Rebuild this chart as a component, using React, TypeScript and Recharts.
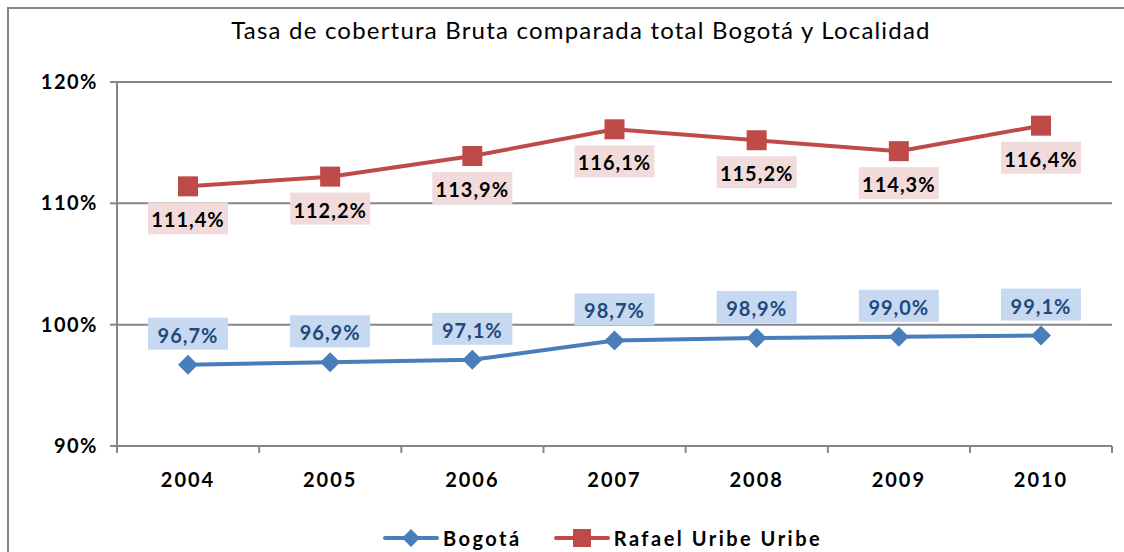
import React from 'react';
import { LineChart, Line, XAxis, YAxis, CartesianGrid, Legend } from 'recharts';

const years = ['2004', '2005', '2006', '2007', '2008', '2009', '2010'];
const bogota = [96.7, 96.9, 97.1, 98.7, 98.9, 99.0, 99.1];
const rafaelUribe = [111.4, 112.2, 113.9, 116.1, 115.2, 114.3, 116.4];
const yTicks = [90, 100, 110, 120];

const chartData = years.map((year, i) => ({
  year,
  bogota: bogota[i],
  rafael: rafaelUribe[i],
}));

const FONT = 'Lato, "DejaVu Sans", sans-serif';
const GRID = '#868686';
const BLUE = '#4a7ebb';
const RED = '#be4b48';
const HALF_BAND = 71;

const fmt = (v: number) => `${v.toFixed(1).replace('.', ',')}%`;

const BoxLabel = (props: any) => {
  const { x, y, value, bg, color, dy } = props;
  if (x == null || y == null) return null;
  return (
    <g>
      <rect x={x - 40} y={y + dy - 16} width={80} height={32} fill={bg} />
      <text
        x={x}
        y={y + dy + 1}
        textAnchor="middle"
        dominantBaseline="central"
        fontFamily={FONT}
        fontWeight={700}
        fontSize={20}
        letterSpacing={1}
        fill={color}
      >
        {fmt(value)}
      </text>
    </g>
  );
};

const SquareDot = (props: any) => {
  const { cx, cy } = props;
  if (cx == null || cy == null) return null;
  return <rect x={cx - 10} y={cy - 10} width={20} height={20} fill={RED} />;
};

const DiamondDot = (props: any) => {
  const { cx, cy } = props;
  if (cx == null || cy == null) return null;
  return <polygon points={`${cx},${cy - 10} ${cx + 10},${cy} ${cx},${cy + 10} ${cx - 10},${cy}`} fill={BLUE} />;
};

const YearTick = (props: any) => {
  const { x, y, payload, index } = props;
  return (
    <g>
      <line x1={x - HALF_BAND} y1={y} x2={x - HALF_BAND} y2={y + 7} stroke={GRID} strokeWidth={2} />
      {index === years.length - 1 && (
        <line x1={x + HALF_BAND} y1={y} x2={x + HALF_BAND} y2={y + 7} stroke={GRID} strokeWidth={2} />
      )}
      <text
        x={x}
        y={y + 33}
        textAnchor="middle"
        dominantBaseline="central"
        fontFamily={FONT}
        fontWeight={700}
        fontSize={20}
        letterSpacing={2}
        fill="#000"
      >
        {payload.value}
      </text>
    </g>
  );
};

const LegendContent = () => (
  <div
    style={{
      display: 'flex',
      alignItems: 'center',
      paddingLeft: 383,
      paddingTop: 20,
      fontFamily: FONT,
      fontWeight: 700,
      fontSize: 20,
      letterSpacing: 2.5,
      color: '#000',
    }}
  >
    <svg width={56} height={22}>
      <line x1={2} y1={11} x2={54} y2={11} stroke={BLUE} strokeWidth={4} strokeLinecap="round" />
      <polygon points="28,2 37,11 28,20 19,11" fill={BLUE} />
    </svg>
    <span style={{ marginLeft: 4, marginRight: 32 }}>Bogotá</span>
    <svg width={56} height={22}>
      <line x1={2} y1={11} x2={54} y2={11} stroke={RED} strokeWidth={4} strokeLinecap="round" />
      <rect x={19} y={2} width={18} height={18} fill={RED} />
    </svg>
    <span style={{ marginLeft: 4 }}>Rafael Uribe Uribe</span>
  </div>
);

export default function App() {
  return (
    <div style={{ position: 'absolute', left: 0, top: 0, width: 1124, height: 552, background: '#fff', overflow: 'hidden' }}>
      <div
        style={{
          position: 'absolute',
          left: 7,
          top: 7,
          width: 1140,
          height: 560,
          border: `2px solid ${GRID}`,
          boxSizing: 'border-box',
        }}
      />
      <div
        style={{
          position: 'absolute',
          left: 38,
          top: 15,
          width: 1086,
          textAlign: 'center',
          fontFamily: FONT,
          fontSize: 24,
          lineHeight: '30px',
          letterSpacing: 1.2,
          color: '#000',
        }}
      >
        Tasa de cobertura Bruta comparada total Bogotá y Localidad
      </div>
      <div style={{ position: 'absolute', left: 0, top: 0 }}>
        <LineChart width={1124} height={552} data={chartData} margin={{ top: 82, right: 12, bottom: 6, left: 0 }}>
          <CartesianGrid vertical={false} stroke={GRID} strokeWidth={2} />
          <XAxis
            dataKey="year"
            axisLine={{ stroke: GRID, strokeWidth: 2 }}
            tickLine={false}
            tickSize={0}
            tickMargin={0}
            height={60}
            padding={{ left: HALF_BAND, right: HALF_BAND }}
            tick={<YearTick />}
            interval={0}
          />
          <YAxis
            domain={[90, 120]}
            ticks={yTicks}
            width={117}
            axisLine={{ stroke: GRID, strokeWidth: 2 }}
            tickLine={{ stroke: GRID, strokeWidth: 2 }}
            tickSize={7}
            tickMargin={12}
            tickFormatter={(v: number) => `${v}%`}
            tick={{ fill: '#000', fontFamily: FONT, fontWeight: 700, fontSize: 20, letterSpacing: 1.5 }}
          />
          <Legend verticalAlign="bottom" height={40} content={<LegendContent />} />
          <Line
            type="linear"
            dataKey="bogota"
            name="Bogotá"
            stroke={BLUE}
            strokeWidth={4}
            dot={<DiamondDot />}
            activeDot={false}
            isAnimationActive={false}
            label={<BoxLabel bg="#c6d9f1" color="#1f497d" dy={-31} />}
          />
          <Line
            type="linear"
            dataKey="rafael"
            name="Rafael Uribe Uribe"
            stroke={RED}
            strokeWidth={4}
            dot={<SquareDot />}
            activeDot={false}
            isAnimationActive={false}
            label={<BoxLabel bg="#f2dcdb" color="#000" dy={32} />}
          />
        </LineChart>
      </div>
    </div>
  );
}
